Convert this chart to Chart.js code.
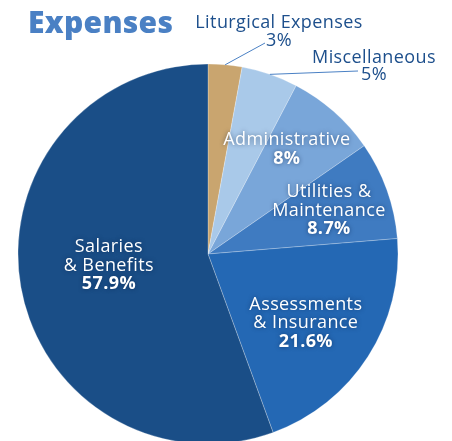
<!DOCTYPE html>
<html>
<head>
<meta charset="utf-8">
<script src="https://cdn.jsdelivr.net/npm/chart.js@4"></script>
<style>
  html, body { margin: 0; padding: 0; background: #ffffff; overflow: hidden; }
  .wrap { position: relative; width: 452px; height: 448px; }
</style>
</head>
<body>
<div class="wrap"><canvas class="expenses"></canvas></div>
<script>
const title_text = 'Expenses';
const categories = [
  'Liturgical Expenses', 'Miscellaneous', 'Administrative',
  'Utilities & Maintenance', 'Assessments & Insurance', 'Salaries & Benefits'
];
const percents = [3, 5, 8, 8.7, 21.6, 57.9];
const label_lines = [
  ['Liturgical Expenses'],
  ['Miscellaneous'],
  ['Administrative'],
  ['Utilities &', 'Maintenance'],
  ['Assessments', '& Insurance'],
  ['Salaries', '& Benefits']
];
const slice_colors = ['#c9a56f', '#a9c9e9', '#79a6d9', '#3f7bc1', '#2468b4', '#1a4e87'];

// where each label sits, relative to the pie centre
const placements = [
  { outside: true, dx: 71, dy: -226, lineEnd: [57, -211], gap: 18 },
  { outside: true, dx: 166, dy: -191, lineEnd: [150, -183], gap: 16.5 },
  { frac: 0.69, nudge: -4.5 },
  { frac: 0.676, nudge: 0 },
  { frac: 0.63, nudge: 2.5 },
  { frac: 0.525, nudge: 3.4 }
];

const FONT = '"Open Sans", "DejaVu Sans", sans-serif';

const labelPlugin = {
  id: 'sliceLabels',
  afterDatasetsDraw (chart) {
    const ctx = chart.ctx;
    const meta = chart.getDatasetMeta(0);

    ctx.save();
    ctx.textAlign = 'left';
    ctx.textBaseline = 'alphabetic';
    ctx.fillStyle = '#4a80c4';
    ctx.font = '800 30px ' + FONT;
    ctx.letterSpacing = '0.3px';
    ctx.fillText(title_text, 28, 33);
    ctx.restore();

    meta.data.forEach((arc, i) => {
      const p = arc.getProps(['x', 'y', 'startAngle', 'endAngle', 'outerRadius'], true);
      const mid = (p.startAngle + p.endAngle) / 2;
      const place = placements[i];
      const lines = label_lines[i];
      const pct = percents[i] + '%';

      ctx.save();
      ctx.textAlign = 'center';
      ctx.letterSpacing = '0.4px';
      if (place.outside) {
        const sx = p.x + Math.cos(mid) * p.outerRadius;
        const sy = p.y + Math.sin(mid) * p.outerRadius;
        ctx.strokeStyle = '#4a80c4';
        ctx.lineWidth = 1;
        ctx.beginPath();
        ctx.moveTo(sx, sy);
        ctx.lineTo(p.x + place.lineEnd[0], p.y + place.lineEnd[1]);
        ctx.stroke();

        ctx.fillStyle = '#1d4f8c';
        ctx.textBaseline = 'alphabetic';
        ctx.font = '500 18px ' + FONT;
        let by = p.y + place.dy;
        lines.forEach(t => {
          ctx.fillText(t, p.x + place.dx, by);
          by += place.gap;
        });
        ctx.fillText(pct, p.x + place.dx, by);
      } else {
        const a = mid + place.nudge * Math.PI / 180;
        const cx = p.x + Math.cos(a) * p.outerRadius * place.frac;
        const cy = p.y + Math.sin(a) * p.outerRadius * place.frac;
        const gap = 18.5;
        const n = lines.length + 1;
        let y = cy - (n - 1) * gap / 2;
        ctx.fillStyle = '#ffffff';
        ctx.textBaseline = 'middle';
        ctx.shadowColor = 'rgba(0, 30, 70, 0.55)';
        ctx.shadowBlur = 4;
        ctx.font = '500 18px ' + FONT;
        lines.forEach(t => {
          ctx.fillText(t, cx, y);
          y += gap;
        });
        ctx.font = 'bold 18px ' + FONT;
        ctx.fillText(pct, cx, y);
      }
      ctx.restore();
    });
  }
};

const expenses_ctx = document.querySelector('.expenses').getContext('2d');

const expenses_chart = new Chart(expenses_ctx, {
  type: 'pie',
  data: {
    labels: categories,
    datasets: [{
      data: percents,
      backgroundColor: slice_colors,
      borderColor: 'rgba(255, 255, 255, 0.25)',
      borderWidth: 1,
      hoverOffset: 0
    }]
  },
  options: {
    responsive: true,
    maintainAspectRatio: false,
    animation: false,
    events: [],
    radius: 190,
    layout: {
      padding: { left: 18, right: 54, top: 64, bottom: 4 }
    },
    plugins: {
      legend: { display: false },
      tooltip: { enabled: false },
      title: { display: false }
    }
  },
  plugins: [labelPlugin]
});
</script>
</body>
</html>
